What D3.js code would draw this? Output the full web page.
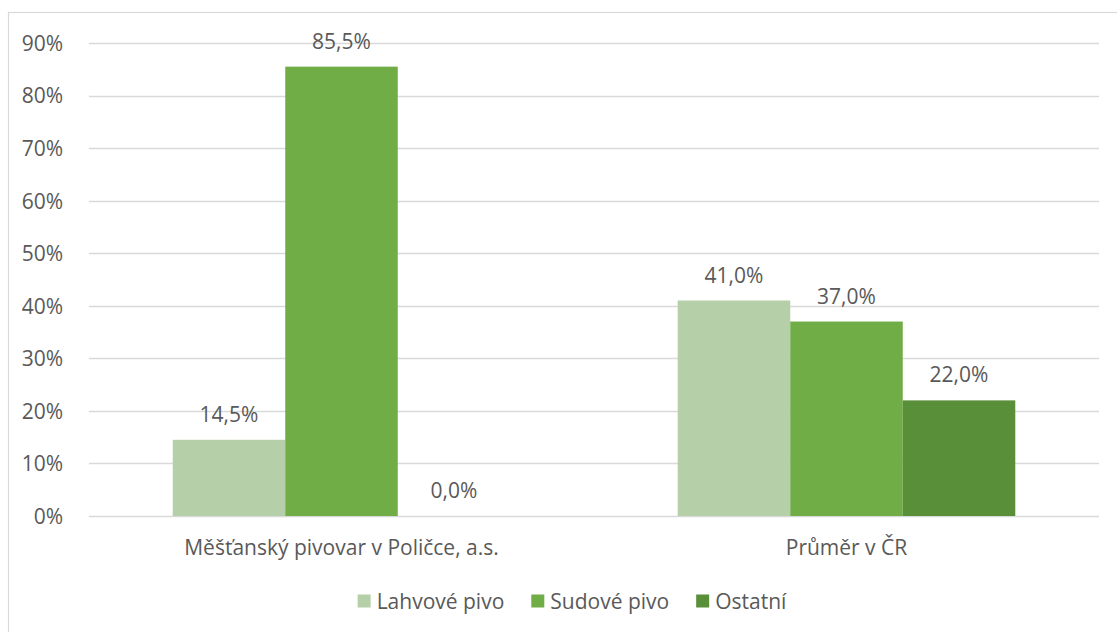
<!DOCTYPE html>
<html>
<head>
<meta charset="utf-8">
<script src="https://cdn.jsdelivr.net/npm/d3@7"></script>
<style>
  html, body { margin: 0; padding: 0; background: #fff; }
  svg { display: block; font-family: "Open Sans", "Noto Sans", sans-serif; }
</style>
</head>
<body>
<svg id="chart" width="1117" height="632"></svg>
<script>
const categories = ["Měšťanský pivovar v Poličce, a.s.", "Průměr v ČR"];
const seriesNames = ["Lahvové pivo", "Sudové pivo", "Ostatní"];
const lahvove = [0.145, 0.41];
const sudove = [0.855, 0.37];
const ostatni = [0.0, 0.22];
const yTicks = [0, 0.1, 0.2, 0.3, 0.4, 0.5, 0.6, 0.7, 0.8, 0.9];
const colors = ["#B5CFA8", "#70AD47", "#5A8F39"];

const seriesValues = [lahvove, sudove, ostatni];
const svg = d3.select("#chart");
const textColor = "#595959";
const fontSize = 21;

// frame
svg.append("rect").attr("x", 8.5).attr("y", 12.5).attr("width", 1300).attr("height", 800)
  .attr("fill", "none").attr("stroke", "#D9D9D9").attr("stroke-width", 1.2);

const plotLeft = 89, plotRight = 1099, plotTop = 43, plotBottom = 516;

const x0 = d3.scaleBand().domain(categories).range([plotLeft, plotRight]).padding(0);
const x1 = d3.scaleBand().domain(seriesNames).range([0, x0.bandwidth()]).paddingInner(0).paddingOuter(0.744);
const y = d3.scaleLinear().domain([0, 0.9]).range([plotBottom, plotTop]);

// gridlines
svg.append("g").selectAll("line").data(yTicks).join("line")
  .attr("x1", plotLeft).attr("x2", plotRight)
  .attr("y1", d => Math.round(y(d)) + 0.5).attr("y2", d => Math.round(y(d)) + 0.5)
  .attr("stroke", "#D9D9D9").attr("stroke-width", 1.3);

// y axis labels
const yAxis = d3.axisLeft(y).tickValues(yTicks).tickFormat(d3.format(".0%")).tickSize(0).tickPadding(0);
const gy = svg.append("g").attr("transform", "translate(63,0)").call(yAxis);
gy.select(".domain").remove();
gy.selectAll("text").attr("fill", textColor).attr("font-size", fontSize)
  .attr("font-family", "'Open Sans', 'Noto Sans', sans-serif").attr("dy", "0.35em");

// bars
const data = [];
categories.forEach((c, ci) => seriesNames.forEach((s, si) => data.push({c, s, si, v: seriesValues[si][ci]})));

svg.append("g").selectAll("rect").data(data).join("rect")
  .attr("x", d => x0(d.c) + x1(d.s))
  .attr("width", x1.bandwidth())
  .attr("y", d => y(d.v))
  .attr("height", d => y(0) - y(d.v))
  .attr("fill", d => colors[d.si]);

// value labels
const fmt = v => (v * 100).toFixed(1).replace(".", ",") + "%";
svg.append("g").selectAll("text").data(data).join("text")
  .attr("x", d => x0(d.c) + x1(d.s) + x1.bandwidth() / 2)
  .attr("y", d => y(d.v) - 18)
  .attr("text-anchor", "middle")
  .attr("fill", textColor).attr("font-size", fontSize)
  .text(d => fmt(d.v));

// x axis labels
const xAxis = d3.axisBottom(x0).tickSize(0).tickPadding(0);
const gx = svg.append("g").attr("transform", `translate(0,${plotBottom})`).call(xAxis);
gx.select(".domain").remove();
gx.selectAll("text").attr("fill", textColor).attr("font-size", fontSize)
  .attr("font-family", "'Open Sans', 'Noto Sans', sans-serif").attr("dy", null).attr("y", 39);

// legend
const legend = svg.append("g");
const sq = 13, gapText = 6, gapItem = 27;
const items = legend.selectAll("g").data(seriesNames).join("g");
items.append("rect").attr("width", sq).attr("height", sq).attr("y", -sq / 2 - 1)
  .attr("fill", (d, i) => colors[i]);
items.append("text").attr("x", sq + gapText).attr("y", 0).attr("dy", "0.35em")
  .attr("fill", textColor).attr("font-size", fontSize).text(d => d);
let cx = 0;
const widths = [];
items.each(function() {
  const w = sq + gapText + this.querySelector("text").getComputedTextLength();
  widths.push(w);
});
const total = d3.sum(widths) + gapItem * (widths.length - 1);
const startX = 572 - total / 2;
items.attr("transform", (d, i) => {
  const t = `translate(${startX + cx},602)`;
  cx += widths[i] + gapItem;
  return t;
});
</script>
</body>
</html>
